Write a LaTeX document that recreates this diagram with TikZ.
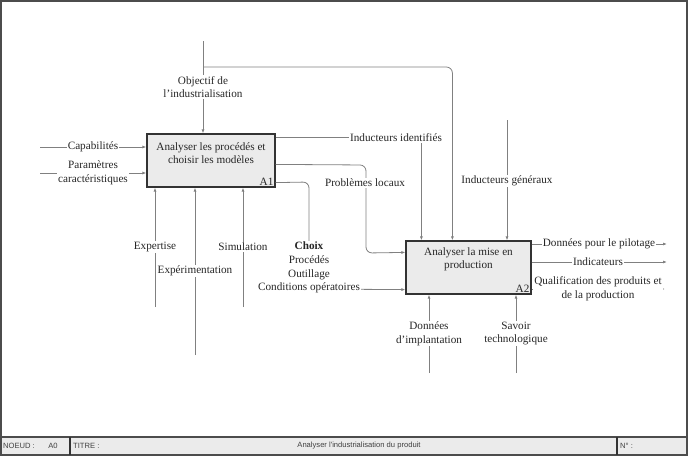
\documentclass[tikz,border=0pt]{standalone}
\usepackage{fontspec}
\setmainfont{Liberation Serif}
\newfontfamily\footfont{Liberation Sans}
\usetikzlibrary{arrows.meta}
\begin{document}
\begin{tikzpicture}[x=1pt,y=-1pt,
 act/.style={draw=black!80,line width=1.2pt,fill=black!8,inner sep=0pt},
 flow/.style={draw=black!50,line width=0.8pt,-{Latex[length=4pt,width=3pt]}},
 lbl/.style={fill=white,inner sep=1pt,font=\fontsize{11.2}{13.6}\selectfont,align=center,text=black!85},
 boxtxt/.style={inner sep=0pt,font=\fontsize{11.2}{13.2}\selectfont,align=center,text=black!85},
 foot/.style={inner sep=0pt,font=\footfont\fontsize{7.6}{9}\selectfont,text=black!75}
 ]
\useasboundingbox (0,0) rectangle (688,456);
% frame and footer
\draw[black!70,line width=1.5pt] (1,1) rectangle (687,455);
\filldraw[fill=black!8,draw=black!70,line width=1.2pt] (1,437) rectangle (687,455);
\draw[black!80,line width=1.2pt] (70,437) -- (70,455) (617,437) -- (617,455);
\node[foot,anchor=west] (fn) at (3,446) {NOEUD :};
\node[foot] (fa) at (53,446) {A0};
\node[foot,anchor=west] (ft) at (73,446) {TITRE :};
\node[foot] (ftt) at (359,446) {Analyser l'industrialisation du produit};
\node[foot,anchor=west] (fnum) at (620,446) {N° :};
% activity boxes
\node[act,minimum width=128pt,minimum height=53pt] (A1) at (211,160.5) {};
\node[act,minimum width=125pt,minimum height=53pt] (A2) at (468.5,267.5) {};
\node[boxtxt] (A1t) at (211,153.5) {Analyser les procédés et\\choisir les modèles};
\node[boxtxt] (A2t) at (468.5,259.5) {Analyser la mise en\\production};
\node[boxtxt,anchor=south east,inner sep=2pt] (A1n) at (A1.south east) {A1};
\node[boxtxt,anchor=south east,inner sep=2pt] (A2n) at (A2.south east) {A2};
% connectors
\coordinate (objtop) at (203,41);
\coordinate (objbr) at (203,67);
\draw[flow] (objtop) -- (objtop |- A1.north);
\draw[flow,rounded corners=6pt] (objbr) -| ([xshift=47pt]A2.north west);
\coordinate (cap) at (40,147);
\draw[flow] (cap) -- (cap -| A1.west);
\coordinate (par) at (40,173);
\draw[flow] (par) -- (par -| A1.west);
\draw[flow] ([yshift=-4pt]A1.north east) -| ([xshift=16pt]A2.north west);
\draw[flow,rounded corners=6pt] ([yshift=-31pt]A1.north east) -- (366,165) -- (366,253) -- ([yshift=-12pt]A2.north west);
\draw[flow,rounded corners=6pt] ([yshift=5pt]A1.south east) -- (309,182) -- (309,289) -- ([yshift=5pt]A2.south west);
\coordinate (exp) at (155,307);
\draw[flow] (exp) -- (exp |- A1.south);
\coordinate (expe) at (195,355);
\draw[flow] (expe) -- (expe |- A1.south);
\coordinate (sim) at (243,307);
\draw[flow] (sim) -- (sim |- A1.south);
\coordinate (ig) at (507,120);
\draw[flow] (ig) -- (ig |- A2.north);
\coordinate (di) at (429,373);
\draw[flow] (di) -- (di |- A2.south);
\coordinate (st) at (516,373);
\draw[flow] (st) -- (st |- A2.south);
\coordinate (o1) at (667,244);
\draw[flow] (o1 -| A2.east) -- (o1);
\coordinate (o2) at (667,262);
\draw[flow] (o2 -| A2.east) -- (o2);
\coordinate (o3) at (665,289);
\draw[flow] (o3 -| A2.east) -- (o3);
% labels
\node[lbl] (lobj) at (203,87) {Objectif de\\l'industrialisation};
\node[lbl] (lcap) at (93,147) {Capabilités};
\node[lbl] (lpar) at (93,173) {Paramètres\\caractéristiques};
\node[lbl] (lii) at (396,138) {Inducteurs identifiés};
\node[lbl] (lpl) at (365,183) {Problèmes locaux};
\node[lbl] (lch) at (309,267.5) {\textbf{Choix}\\Procédés\\Outillage\\Conditions opératoires};
\node[lbl] (lexp) at (155,247) {Expertise};
\node[lbl] (lexpe) at (195,271) {Expérimentation};
\node[lbl] (lsim) at (243,247) {Simulation};
\node[lbl] (lig) at (507,181) {Inducteurs généraux};
\node[lbl] (ldi) at (429,333.5) {Données\\d'implantation};
\node[lbl] (lst) at (516,333.5) {Savoir\\technologique};
\node[lbl] (lo1) at (599,244) {Données pour le pilotage};
\node[lbl] (lo2) at (598,262) {Indicateurs};
\node[lbl] (lo3) at (598,289) {Qualification des produits et\\de la production};
\end{tikzpicture}
\end{document}
